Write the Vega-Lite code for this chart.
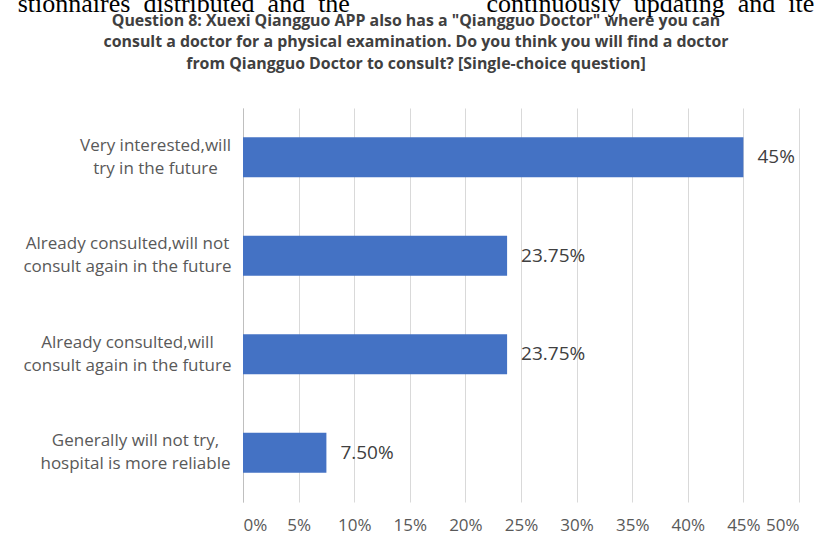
{
  "$schema": "https://vega.github.io/schema/vega-lite/v6.json",
  "width": 556,
  "height": 394,
  "autosize": {"type": "none"},
  "padding": {"left": 243, "top": 108, "right": 15, "bottom": 32},
  "background": "white",
  "title": {
    "text": "stionnaires\u00a0\u00a0distributed\u00a0\u00a0and\u00a0\u00a0the\u00a0\u00a0\u00a0\u00a0\u00a0\u00a0\u00a0\u00a0\u00a0\u00a0\u00a0\u00a0\u00a0\u00a0\u00a0\u00a0\u00a0\u00a0\u00a0\u00a0\u00a0continuously\u00a0\u00a0updating\u00a0\u00a0and\u00a0\u00a0ite",
    "subtitle": [
      "Question 8: Xuexi Qiangguo APP also has a \"Qiangguo Doctor\" where you can",
      "consult a doctor for a physical examination. Do you think you will find a doctor",
      "from Qiangguo Doctor to consult? [Single-choice question]"
    ],
    "anchor": "middle",
    "frame": "group",
    "dx": -105,
    "offset": 36.5,
    "font": "Liberation Serif",
    "fontSize": 26,
    "fontWeight": "normal",
    "color": "#000000",
    "subtitleFont": "Open Sans",
    "subtitleFontSize": 15.9,
    "subtitleFontWeight": "bold",
    "subtitleColor": "#404040",
    "subtitleLineHeight": 21.5,
    "subtitlePadding": -4.5
  },
  "data": {
    "values": [
      {"answer": "Very interested,will\ntry in the future", "pct": 45, "label": "45%"},
      {"answer": "Already consulted,will not\nconsult again in the future", "pct": 23.75, "label": "23.75%"},
      {"answer": "Already consulted,will\nconsult again in the future", "pct": 23.75, "label": "23.75%"},
      {"answer": "Generally will not try,\nhospital is more reliable", "pct": 7.5, "label": "7.50%"}
    ]
  },
  "encoding": {
    "y": {
      "field": "answer",
      "type": "nominal",
      "sort": null,
      "scale": {"paddingInner": 0.594, "paddingOuter": 0.297},
      "axis": {
        "title": null,
        "labelExpr": "split(datum.label, '\\n')",
        "labelAlign": "center",
        "labelBaseline": "middle",
        "labelOffset": -11.5,
        "labelPadding": {
          "condition": [
            {"test": "datum.index < 0.1", "value": 88},
            {"test": "datum.index > 0.9", "value": 108}
          ],
          "value": 116
        },
        "labelLimit": 400,
        "labelFont": "Open Sans",
        "labelFontSize": 17,
        "labelLineHeight": 23,
        "labelColor": "#595959",
        "ticks": false,
        "tickSize": 0,
        "domain": true,
        "domainColor": "#bfbfbf",
        "domainWidth": 1,
        "grid": false
      }
    },
    "x": {
      "field": "pct",
      "type": "quantitative",
      "scale": {"domain": [0, 50], "nice": false},
      "axis": {
        "title": null,
        "values": [0, 5, 10, 15, 20, 25, 30, 35, 40, 45, 50],
        "labelExpr": "datum.value + '%'",
        "labelFont": "Open Sans",
        "labelFontSize": 17,
        "labelColor": "#595959",
        "labelPadding": 15,
        "ticks": false,
        "domain": false,
        "grid": true,
        "gridColor": "#d9d9d9",
        "gridWidth": 1
      }
    }
  },
  "layer": [
    {"mark": {"type": "bar", "color": "#4472C4"}},
    {
      "mark": {
        "type": "text",
        "align": "left",
        "baseline": "middle",
        "dx": 14,
        "font": "Open Sans",
        "fontSize": 19,
        "color": "#404040"
      },
      "encoding": {"text": {"field": "label"}}
    }
  ],
  "config": {"view": {"stroke": null}}
}
